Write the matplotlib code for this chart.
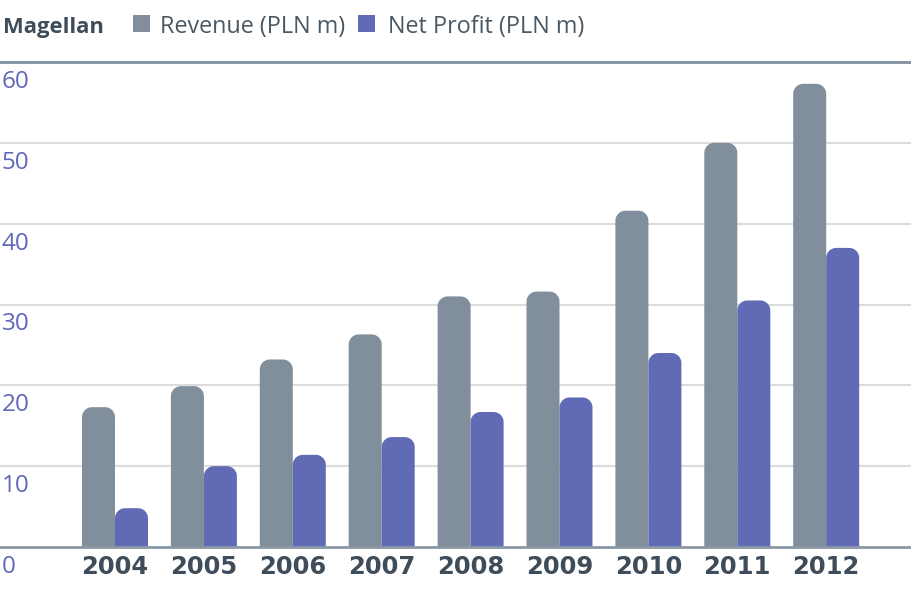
import matplotlib
matplotlib.use("Agg")
import numpy as np
from matplotlib import pyplot as plt
from matplotlib.patches import PathPatch, Rectangle
from matplotlib.path import Path
from matplotlib.transforms import blended_transform_factory, offset_copy

years = ["2004", "2005", "2006", "2007", "2008", "2009", "2010", "2011", "2012"]
revenue = [17.3, 19.9, 23.2, 26.3, 31.0, 31.6, 41.6, 50.0, 57.3]
net_profit = [4.8, 10.0, 11.4, 13.6, 16.7, 18.5, 24.0, 30.5, 37.0]
y_ticks = [0, 10, 20, 30, 40, 50, 60]

GRAY = "#808f9b"
PURPLE = "#616bb5"
DARK = "#3e4d59"
TICK_COL = "#6068b8"

fig = plt.figure(figsize=(9.12, 6.0), dpi=100)
ax = fig.add_axes([0, 53 / 600, 1, 485 / 600])
ax.set_xlim(-115 / 88.9, (912 - 115) / 88.9)
ax.set_ylim(0, 60)
ax.axis("off")

# grid
for t in y_ticks[1:-1]:
    ax.axhline(t, color="#dcdcdc", lw=1.5, zorder=0)
ax.axhline(60, color="#7f8f9e", lw=2, zorder=1, clip_on=False)
ax.axhline(0, color="#8a98a5", lw=2, zorder=3, clip_on=False)

width = 33 / 88.9
xs = list(range(len(years)))
bars_r = ax.bar([x - width / 2 for x in xs], revenue, width, color=GRAY)
bars_p = ax.bar([x + width / 2 for x in xs], net_profit, width, color=PURPLE)

# swap each bar for one with rounded top corners
rx = 10 / 88.9
ry = 10 * 60 / 485
ang = np.linspace(0, np.pi / 2, 12)
for bars in (bars_r, bars_p):
    for b in bars:
        b.set_visible(False)
        x0, w, h = b.get_x(), b.get_width(), b.get_height()
        x1 = x0 + w
        pts = [(x0, 0), (x1, 0)]
        pts += [(x1 - rx + rx * np.cos(a), h - ry + ry * np.sin(a)) for a in ang]
        pts += [(x0 + rx - rx * np.sin(a), h - ry + ry * np.cos(a)) for a in ang]
        pts.append((x0, 0))
        ax.add_patch(PathPatch(Path(pts, closed=True), fc=b.get_facecolor(), ec="none", zorder=2))

# y labels
trans = blended_transform_factory(ax.transAxes, ax.transData)
for t in y_ticks:
    ax.text(0.002, t, str(t), transform=offset_copy(trans, fig=fig, x=0, y=-8, units="dots"),
            ha="left", va="top", fontsize=17.5, color=TICK_COL, family="Open Sans")

# x labels
for x, yr in zip(xs, years):
    ax.text(x, 0, yr, transform=offset_copy(ax.transData, fig=fig, x=0, y=-8, units="dots"),
            ha="center", va="top", fontsize=17.5, color=DARK, family="DejaVu Sans", fontweight="bold")

# title and legend
fig.text(3 / 912, 1 - 33 / 600, "Magellan", ha="left", va="baseline", fontsize=15.8,
         fontweight="bold", color=DARK, family="Open Sans")
fig.patches.append(Rectangle((133 / 912, 1 - 32 / 600), 17 / 912, 17 / 600,
                             transform=fig.transFigure, fc=GRAY, ec="none"))
fig.text(160 / 912, 1 - 33 / 600, "Revenue (PLN m)", ha="left", va="baseline",
         fontsize=16.8, color="#4a5864", family="Open Sans")
fig.patches.append(Rectangle((358 / 912, 1 - 32 / 600), 17 / 912, 17 / 600,
                             transform=fig.transFigure, fc=PURPLE, ec="none"))
fig.text(388 / 912, 1 - 33 / 600, "Net Profit (PLN m)", ha="left", va="baseline",
         fontsize=16.8, color="#4a5864", family="Open Sans")

fig.savefig("out.png", dpi=100)
